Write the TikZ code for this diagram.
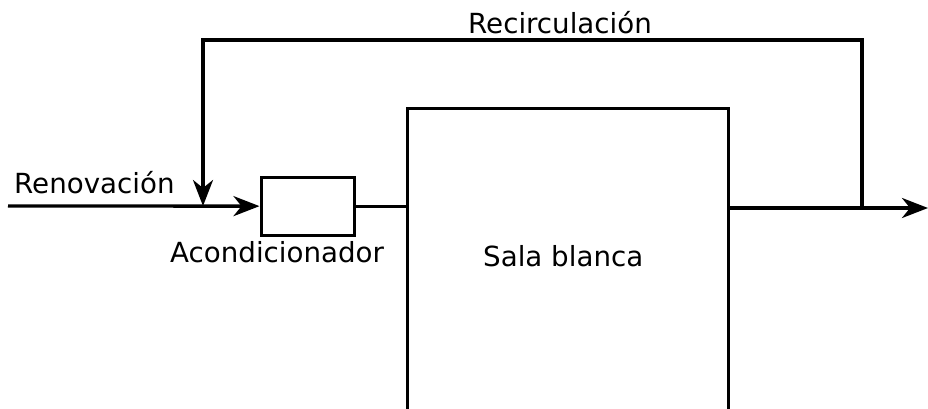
\documentclass[tikz,border=0pt]{standalone}
\usepackage{fontspec}
\setmainfont{DejaVu Sans}
\usetikzlibrary{arrows.meta}
\begin{document}
\begin{tikzpicture}[x=1pt,y=-1pt,
  line/.style={line width=3.3pt},
  arr/.style={line, -{Stealth[length=26pt,width=20pt,inset=8pt]}},
  lbl/.style={anchor=base west, inner sep=0pt, font=\fontsize{27.7}{30}\selectfont},
  boxstyle/.style={draw, line width=3.3pt, inner sep=0pt, anchor=north west}]
\useasboundingbox (0,0) rectangle (928,409);
\clip (0,0) rectangle (928,409);
% nodes
\node[boxstyle, minimum width=93pt, minimum height=58pt] (acond) at (259.5,175.5) {};
\node[boxstyle, minimum width=321pt, minimum height=400pt] (sala) at (406,107) {};
% coordinates
\coordinate (in) at (8,206);
\coordinate (mix) at (203,206);
\coordinate (split) at (862,208);
\coordinate (out) at (928,208);
\coordinate (tl) at (203,40);
\coordinate (tr) at (862,40);
% connectors
\draw[arr] (in) -- (acond.west);
\draw[line] (acond.east) -- (acond.east -| sala.west);
\draw[arr] (sala.east |- split) -- (out);
\draw[arr] (split) -- (tr) -- (tl) -- (mix);
% labels
\node[lbl] (lrec) at (468,34) {Recirculación};
\node[lbl] (lren) at (14,193) {Renovación};
\node[lbl] (lacond) at (170,262) {Acondicionador};
\node[lbl] (lsala) at (483,266) {Sala blanca};
\end{tikzpicture}
\end{document}
